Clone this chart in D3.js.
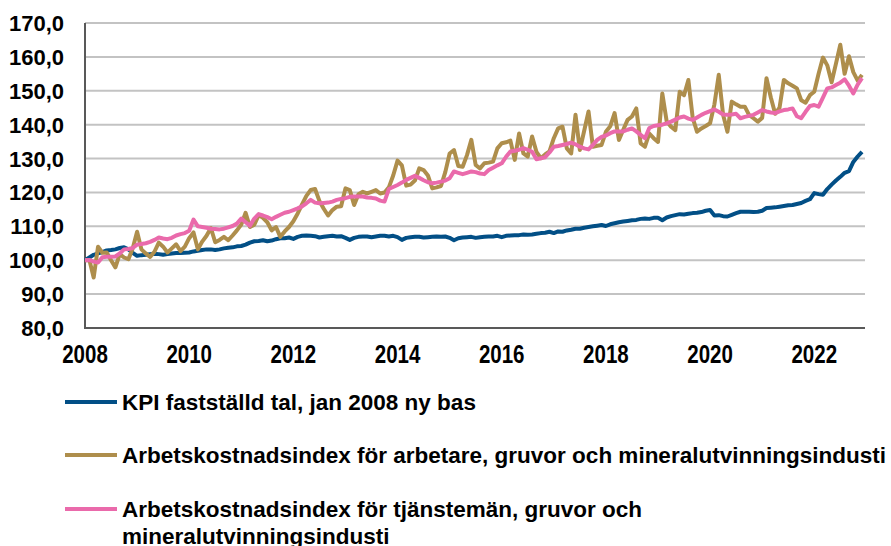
<!DOCTYPE html>
<html>
<head>
<meta charset="utf-8">
<script src="https://cdn.jsdelivr.net/npm/d3@7"></script>
<style>
  body { margin: 0; background: #fff; }
  svg { display: block; }
  text { font-family: "Liberation Sans", Arial, sans-serif; font-weight: bold; fill: #000; }
</style>
</head>
<body>
<svg id="chart" width="891" height="546"></svg>
<script>
// monthly values, jan 2008 - dec 2022
let kpi = [
  100.0, 100.8, 101.6, 102.0, 102.4, 102.9, 103.0, 103.2, 103.6, 103.8, 103.2, 102.2,
  101.3, 101.5, 101.6, 101.8, 101.9, 101.8, 101.6, 101.8, 102.0, 102.1, 102.1, 102.2,
  102.3, 102.6, 102.8, 103.0, 103.2, 103.2, 103.0, 103.2, 103.5, 103.7, 103.8, 104.1,
  104.2, 104.6, 105.2, 105.6, 105.7, 105.9, 105.6, 105.8, 106.2, 106.5, 106.5, 106.7,
  106.3, 106.9, 107.2, 107.3, 107.2, 107.1, 106.7, 106.9, 107.1, 107.2, 107.0, 107.1,
  106.6, 106.0, 106.6, 106.9, 107.0, 107.0, 106.8, 107.0, 107.2, 107.2, 107.0, 107.2,
  106.8, 106.0, 106.6, 106.8, 106.9, 106.9, 106.7, 106.8, 106.9, 107.0, 106.9, 107.0,
  106.6, 105.9, 106.5, 106.7, 106.8, 106.9, 106.6, 106.8, 106.9, 107.0, 107.0, 107.2,
  106.8, 107.2, 107.3, 107.4, 107.4, 107.6, 107.5, 107.6, 107.8, 108.0, 108.1, 108.4,
  108.0, 108.5, 108.4, 108.8, 109.0, 109.3, 109.3, 109.6, 109.8, 110.0, 110.2, 110.4,
  110.1, 110.6, 110.9, 111.2, 111.4, 111.6, 111.8, 111.9, 112.2, 112.3, 112.2, 112.5,
  112.5, 111.8, 112.6, 113.0, 113.3, 113.6, 113.5, 113.7, 113.9, 114.0, 114.2, 114.6,
  114.8, 113.2, 113.3, 113.0, 112.9, 113.4, 113.9, 114.3, 114.3, 114.3, 114.2, 114.3,
  114.6, 115.4, 115.5, 115.6, 115.8, 116.0, 116.2, 116.3, 116.6, 116.9, 117.5, 118.0,
  119.8, 119.5, 119.3, 121.0, 122.3, 123.5, 124.6, 125.8, 126.3, 129.0, 130.6, 132.0
];

let arbetare = [
  100.0, 100.1, 94.9, 104.0, 102.2, 102.3, 100.0, 97.9, 101.8, 100.8, 100.3, 103.5,
  108.4, 103.2, 102.0, 101.0, 102.5, 105.2, 104.0, 102.3, 103.5, 104.7, 102.7, 104.0,
  106.5, 108.2, 103.2, 105.5, 107.2, 109.5, 105.3, 106.0, 106.9, 105.9, 107.3, 108.8,
  110.5, 114.0, 109.8, 110.5, 113.3, 112.5, 111.2, 108.8, 109.8, 106.9, 108.5, 109.8,
  111.5, 113.8, 116.5, 119.0, 120.7, 121.0, 117.5, 115.2, 113.2, 114.8, 115.8, 115.9,
  121.2, 120.7, 116.3, 119.5, 120.2, 119.7, 120.2, 120.7, 119.7, 120.0, 121.5, 125.0,
  129.4, 128.0, 122.0, 122.3, 123.5, 127.1, 126.6, 125.0, 121.2, 121.5, 121.9, 126.0,
  131.5, 132.5, 127.8, 127.6, 131.0, 135.5, 128.1, 127.1, 128.6, 128.8, 129.1, 133.0,
  134.5, 134.8, 135.3, 129.6, 137.4, 131.5, 130.6, 136.5, 132.0, 130.1, 131.2, 132.1,
  136.0, 138.9, 139.4, 133.0, 131.5, 142.9, 132.5, 138.2, 143.9, 133.5, 133.8, 134.0,
  137.9, 139.5, 143.4, 135.5, 138.5, 141.4, 142.4, 144.8, 134.5, 133.5, 137.4, 136.0,
  134.9, 149.2, 141.0, 139.4, 138.4, 149.7, 148.7, 153.2, 142.0, 137.9, 138.9, 139.6,
  140.4, 146.0, 154.7, 142.9, 137.9, 146.8, 146.0, 145.3, 145.3, 142.8, 141.9, 140.9,
  142.0, 153.7, 148.0, 143.2, 145.0, 153.2, 152.2, 151.5, 150.7, 147.2, 146.5, 148.7,
  149.7, 155.0, 159.8, 157.5, 152.5, 158.0, 163.6, 155.0, 160.2, 155.5, 153.0, 154.7
];

let tjansteman = [
  100.0, 100.1, 99.6, 99.3, 100.9, 101.0, 101.0, 101.1, 102.0, 103.2, 103.3, 103.6,
  104.6, 104.8, 105.0, 105.4, 106.0, 106.7, 106.4, 106.2, 106.6, 107.3, 107.7, 108.0,
  108.7, 112.0, 110.0, 109.8, 109.6, 109.3, 109.2, 109.1, 109.3, 109.7, 110.1, 110.8,
  112.3, 111.2, 110.2, 112.3, 113.6, 113.2, 112.7, 112.1, 112.8, 113.4, 114.0, 114.3,
  114.8, 115.3, 115.9, 116.8, 117.8, 117.0, 116.8, 116.9, 117.0, 117.3, 117.8, 118.1,
  118.3, 118.7, 118.8, 118.8, 118.8, 118.5, 118.4, 118.2, 117.6, 117.3, 121.0, 121.6,
  122.2, 122.9, 123.7, 124.3, 124.9, 124.3, 123.6, 123.0, 122.7, 122.9, 123.2, 123.5,
  124.2, 126.2, 125.8, 125.4, 125.8, 126.2, 126.0, 125.6, 125.4, 126.6, 127.3, 128.0,
  128.6, 130.5, 132.1, 132.3, 132.6, 133.1, 132.6, 132.0, 129.8, 130.1, 130.4, 131.8,
  133.5, 133.7, 134.0, 134.3, 134.7, 134.2, 133.5, 133.0, 132.7, 134.0, 135.5, 136.4,
  136.8, 137.5, 138.0, 138.0, 138.0, 138.5, 138.9, 138.0, 137.0, 136.0, 139.0, 139.6,
  139.8, 140.0, 140.4, 140.9, 141.5, 142.1, 142.4, 141.8, 141.4, 142.1, 142.9, 143.5,
  144.0, 144.5, 143.8, 143.0, 142.9, 143.0, 143.2, 141.9, 142.3, 142.6, 142.9, 143.6,
  144.3, 143.9, 143.6, 143.4, 143.9, 144.3, 144.5, 144.8, 142.5, 141.9, 143.8, 145.5,
  145.8, 145.3, 148.0, 150.7, 151.0, 151.7, 152.4, 153.4, 151.5, 149.2, 151.8, 153.7
];

let startYear = 2008;
let yTicks = [80, 90, 100, 110, 120, 130, 140, 150, 160, 170];
let xTicks = [2008, 2010, 2012, 2014, 2016, 2018, 2020, 2022];

let seriesNames = [
  ['KPI fastställd tal, jan 2008 ny bas'],
  ['Arbetskostnadsindex för arbetare, gruvor och mineralutvinningsindusti'],
  ['Arbetskostnadsindex för tjänstemän, gruvor och', 'mineralutvinningsindusti']
];
let seriesColors = ['#024f86', '#ae8e4c', '#ea6aab'];

let svg = d3.select('#chart');

let plotLeft = 85, plotRight = 862, plotTop = 23, plotBottom = 328;
let lastT = startYear + (kpi.length - 1) / 12;

let x = d3.scaleLinear().domain([startYear, lastT]).range([plotLeft, plotRight]);
let y = d3.scaleLinear().domain([80, 170]).range([plotBottom, plotTop]);

let sv = d3.formatLocale({ decimal: ',', thousands: ' ', grouping: [3], currency: ['', ' kr'] });
let fmt = sv.format('.1f');

// grid
svg.append('g')
  .selectAll('line')
  .data(yTicks.filter((d) => d > 80))
  .enter()
  .append('line')
  .attr('x1', plotLeft)
  .attr('x2', 865)
  .attr('y1', (d) => y(d))
  .attr('y2', (d) => y(d))
  .attr('stroke', '#c3c3c3')
  .attr('stroke-width', 2);

// y labels
svg.append('g')
  .selectAll('text')
  .data(yTicks)
  .enter()
  .append('text')
  .attr('x', 64)
  .attr('y', (d) => y(d) + 8)
  .attr('text-anchor', 'end')
  .style('font-size', '22px')
  .text((d) => fmt(d));

// x labels, narrow look
svg.append('g')
  .selectAll('text')
  .data(xTicks)
  .enter()
  .append('text')
  .attr('transform', (d) => 'translate(' + x(d) + ',363) scale(0.82,1)')
  .attr('text-anchor', 'middle')
  .style('font-size', '25px')
  .text((d) => d);

// axes
svg.append('path')
  .attr('d', 'M' + plotLeft + ',' + plotTop + 'V' + plotBottom + 'H865')
  .attr('fill', 'none')
  .attr('stroke', '#595959')
  .attr('stroke-width', 2);

let line = d3.line()
  .x((d, i) => x(startYear + i / 12))
  .y((d) => y(d));

[kpi, arbetare, tjansteman].forEach((values, k) => {
  svg.append('path')
    .datum(values)
    .attr('d', line)
    .attr('fill', 'none')
    .attr('stroke', seriesColors[k])
    .attr('stroke-width', 4)
    .attr('stroke-linejoin', 'round');
});

// legend
let legendY = [402, 455, 509];
seriesNames.forEach((lines, k) => {
  svg.append('line')
    .attr('x1', 65)
    .attr('x2', 117)
    .attr('y1', legendY[k])
    .attr('y2', legendY[k])
    .attr('stroke', seriesColors[k])
    .attr('stroke-width', 4);

  let t = svg.append('text')
    .attr('x', 122)
    .attr('y', legendY[k] + 8)
    .style('font-size', '22.5px');
  lines.forEach((s, j) => {
    t.append('tspan')
      .attr('x', 122)
      .attr('dy', j === 0 ? 0 : 27)
      .text(s);
  });
});
</script>
</body>
</html>
